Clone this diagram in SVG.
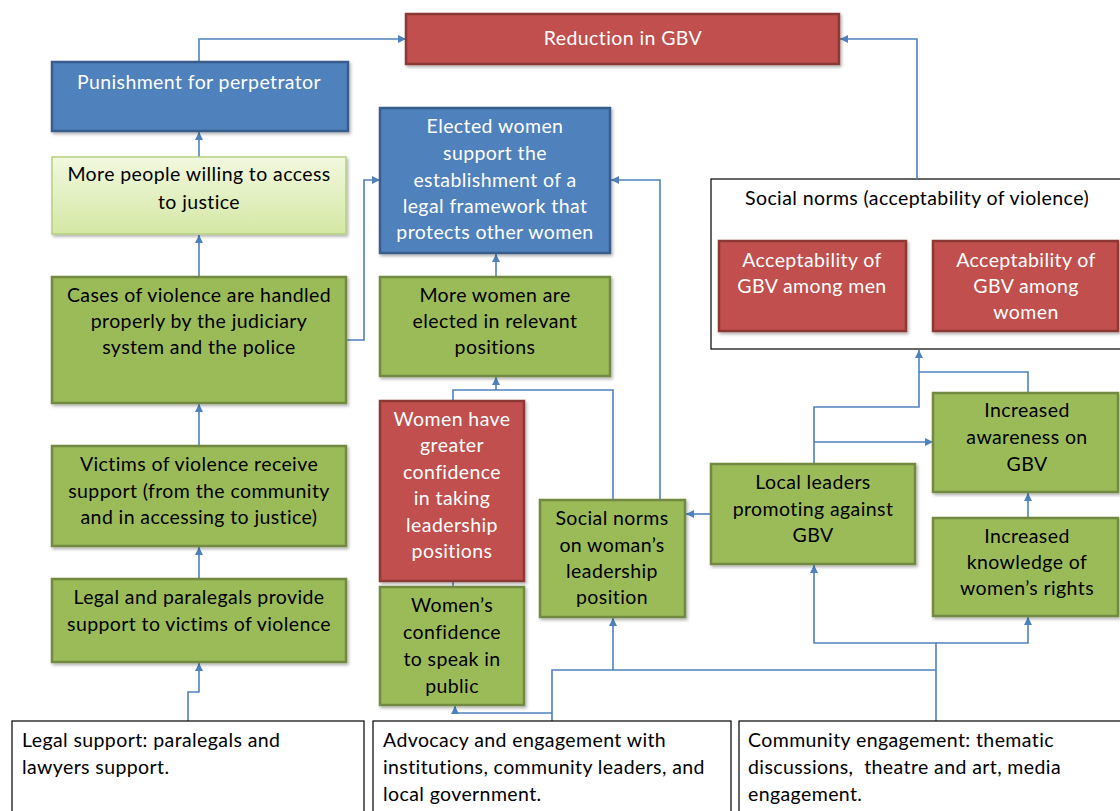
<svg xmlns="http://www.w3.org/2000/svg" width="1120" height="811" viewBox="0 0 1120 811">
<style>
text{font-family:Lato,"Liberation Sans",sans-serif;font-size:19.5px;letter-spacing:0.4px;}
.c text{text-anchor:middle;}
.w text{fill:#fff;}
.k text{fill:#000;}
.green{fill:#9BBB59;stroke:#71893F;stroke-width:2.5;}
.red{fill:#C0504D;stroke:#8C3836;stroke-width:2.5;}
.blue{fill:#4F81BD;stroke:#385D8A;stroke-width:2.5;}
.lite{fill:url(#lg);stroke:#B5CF83;stroke-width:1.5;}
.plain{fill:#fff;stroke:#000;stroke-width:1.2;}
.sh{filter:url(#ds);}
#connectors path{fill:none;stroke:#4F81BD;stroke-width:1.6;}
#connectors path.a{marker-end:url(#ah);}
</style>
<defs>
<linearGradient id="lg" x1="0" y1="0" x2="0" y2="1">
<stop offset="0" stop-color="#F2F8DF"/>
<stop offset="1" stop-color="#D4E8A4"/>
</linearGradient>
<filter id="ds" x="-5%" y="-5%" width="112%" height="115%">
<feDropShadow dx="1.5" dy="2" stdDeviation="1.5" flood-color="#000" flood-opacity="0.3"/>
</filter>
<marker id="ah" markerUnits="userSpaceOnUse" markerWidth="9" markerHeight="9" refX="8" refY="4" orient="auto">
<path d="M0,0 L8,4 L0,8 z" fill="#4F81BD"/>
</marker>
</defs>
<rect width="1120" height="811" fill="#fff"/>

<g id="container-social-norms" class="k">
<rect class="plain" x="711" y="179" width="412" height="170"/>
<text x="917" y="205" text-anchor="middle">Social norms (acceptability of violence)</text>
</g>

<g id="connectors">
<path class="a" d="M199,62 V39 H406"/>
<path class="a" d="M917,179 V39 H840"/>
<path class="a" d="M199,157 V132"/>
<path class="a" d="M199,277 V235"/>
<path class="a" d="M199,446 V404"/>
<path class="a" d="M199,579 V547"/>
<path class="a" d="M188,721 V692 H199 V663"/>
<path class="a" d="M346,340 H364 V180 H380"/>
<path class="a" d="M496,277 V254"/>
<path d="M453,401 V390 H613 V500"/>
<path class="a" d="M496,390 V377"/>
<path class="a" d="M660,500 V180 H611"/>
<path d="M453,581 V587"/>
<path class="a" d="M711,514 H686"/>
<path class="a" d="M814,464 V407 H919 V350"/>
<path class="a" d="M814,442 H933"/>
<path d="M1028,393 V372 H919"/>
<path class="a" d="M1028,518 V493"/>
<path class="a" d="M936,721 V643 H814 V565"/>
<path class="a" d="M936,643 H1028 V617"/>
<path d="M552,721 V670 H936"/>
<path class="a" d="M613,670 V618"/>
<path class="a" d="M552,713 H455 V706"/>
</g>

<g id="reduction" class="c w">
<rect class="red sh" x="406" y="14" width="433" height="50"/>
<text x="623" y="45" font-size="22.5" letter-spacing="0.5">Reduction in GBV</text>
</g>
<g id="punishment" class="c w">
<rect class="blue sh" x="52" y="62" width="296" height="69"/>
<text x="199" y="89">Punishment for perpetrator</text>
</g>
<g id="more-people" class="c k">
<rect class="lite sh" x="52" y="157" width="294" height="77"/>
<text x="199" y="181">More people willing to access</text>
<text x="199" y="209">to justice</text>
</g>
<g id="cases" class="c k">
<rect class="green sh" x="52" y="277" width="294" height="126"/>
<text x="199" y="302">Cases of violence are handled</text>
<text x="199" y="328">properly by the judiciary</text>
<text x="199" y="354">system and the police</text>
</g>
<g id="victims" class="c k">
<rect class="green sh" x="52" y="446" width="294" height="100"/>
<text x="199" y="471">Victims of violence receive</text>
<text x="199" y="498">support (from the community</text>
<text x="199" y="524">and in accessing to justice)</text>
</g>
<g id="legal-paralegals" class="c k">
<rect class="green sh" x="52" y="579" width="294" height="83"/>
<text x="199" y="604">Legal and paralegals provide</text>
<text x="199" y="631">support to victims of violence</text>
</g>
<g id="elected-women" class="c w">
<rect class="blue sh" x="380" y="108" width="230" height="145"/>
<text x="495" y="133">Elected women</text>
<text x="495" y="160">support the</text>
<text x="495" y="187">establishment of a</text>
<text x="495" y="213">legal framework that</text>
<text x="495" y="239">protects other women</text>
</g>
<g id="more-women" class="c k">
<rect class="green sh" x="380" y="277" width="230" height="99"/>
<text x="495" y="302">More women are</text>
<text x="495" y="328">elected in relevant</text>
<text x="495" y="354">positions</text>
</g>
<g id="women-confidence-leadership" class="c w">
<rect class="red sh" x="380" y="401" width="144" height="180"/>
<text x="452" y="426">Women have</text>
<text x="452" y="452">greater</text>
<text x="452" y="479">confidence</text>
<text x="452" y="505">in taking</text>
<text x="452" y="532">leadership</text>
<text x="452" y="558">positions</text>
</g>
<g id="women-confidence-speak" class="c k">
<rect class="green sh" x="380" y="587" width="144" height="118"/>
<text x="452" y="612">Women’s</text>
<text x="452" y="639">confidence</text>
<text x="452" y="666">to speak in</text>
<text x="452" y="693">public</text>
</g>
<g id="social-norms-leadership" class="c k">
<rect class="green sh" x="540" y="500" width="145" height="117"/>
<text x="612" y="525">Social norms</text>
<text x="612" y="552">on woman’s</text>
<text x="612" y="578">leadership</text>
<text x="612" y="604">position</text>
</g>
<g id="local-leaders" class="c k">
<rect class="green sh" x="711" y="464" width="204" height="100"/>
<text x="813" y="489">Local leaders</text>
<text x="813" y="516">promoting against</text>
<text x="813" y="542">GBV</text>
</g>
<g id="increased-awareness" class="c k">
<rect class="green sh" x="933" y="393" width="185" height="99"/>
<text x="1027" y="417">Increased</text>
<text x="1027" y="444">awareness on</text>
<text x="1027" y="471">GBV</text>
</g>
<g id="increased-knowledge" class="c k">
<rect class="green sh" x="933" y="518" width="185" height="98"/>
<text x="1027" y="543">Increased</text>
<text x="1027" y="569">knowledge of</text>
<text x="1027" y="595">women’s rights</text>
</g>
<g id="acceptability-men" class="c w">
<rect class="red sh" x="719" y="241" width="187" height="90"/>
<text x="812" y="267">Acceptability of</text>
<text x="812" y="293">GBV among men</text>
</g>
<g id="acceptability-women" class="c w">
<rect class="red sh" x="933" y="241" width="185" height="90"/>
<text x="1026" y="267">Acceptability of</text>
<text x="1026" y="293">GBV among</text>
<text x="1026" y="319">women</text>
</g>
<g id="legal-support" class="k">
<rect class="plain" x="12" y="721" width="352" height="95"/>
<text x="22" y="747">Legal support: paralegals and</text>
<text x="22" y="774">lawyers support.</text>
</g>
<g id="advocacy" class="k">
<rect class="plain" x="373" y="721" width="358" height="95"/>
<text x="383" y="747">Advocacy and engagement with</text>
<text x="383" y="774">institutions, community leaders, and</text>
<text x="383" y="801">local government.</text>
</g>
<g id="community" class="k">
<rect class="plain" x="739" y="721" width="385" height="95"/>
<text x="748" y="747">Community engagement: thematic</text>
<text x="748" y="774">discussions,&#160; theatre and art, media</text>
<text x="748" y="801">engagement.</text>
</g>
</svg>
